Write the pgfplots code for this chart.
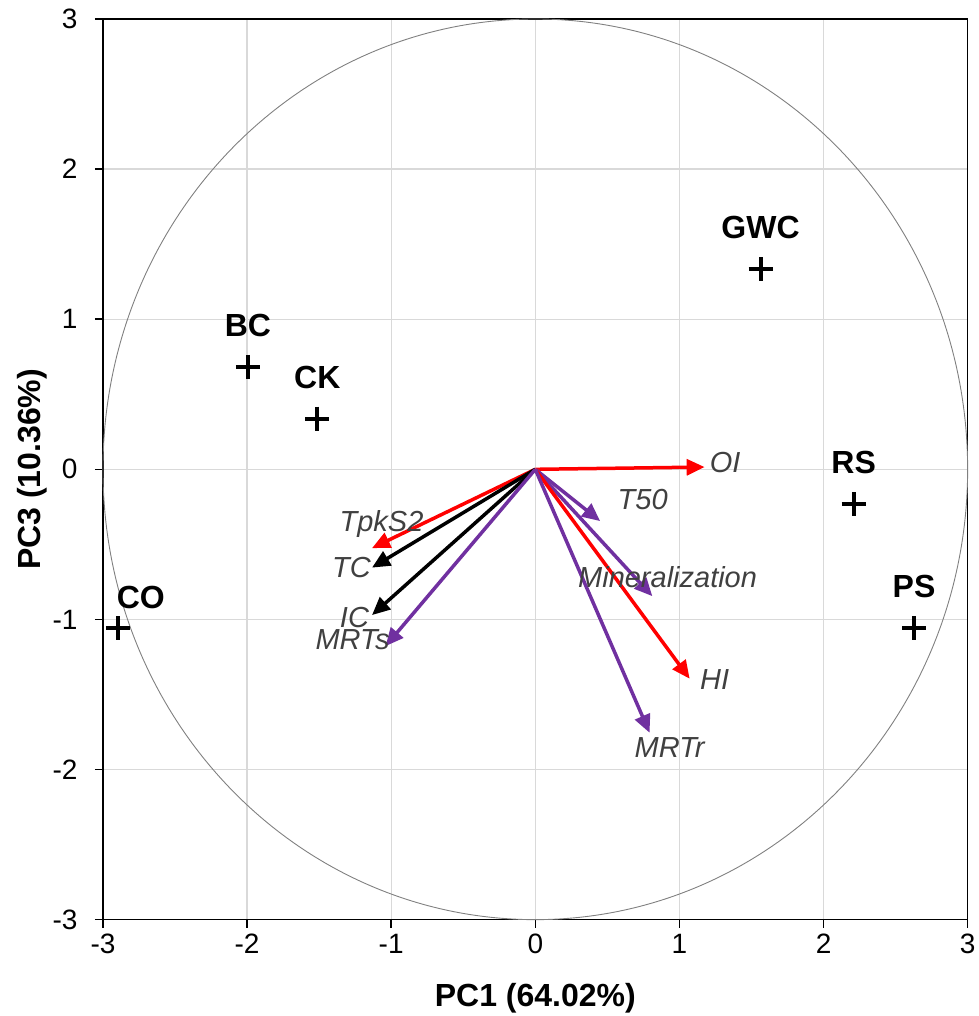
\documentclass[border=0pt]{standalone}
\usepackage{pgfplots}
\pgfplotsset{compat=1.18}
\usepackage{fontspec}
\setmainfont{Liberation Sans}
\usetikzlibrary{arrows.meta}
\definecolor{pur}{RGB}{112,48,160}
\definecolor{lab}{RGB}{64,64,64}
\definecolor{gridc}{RGB}{217,217,217}
\begin{document}
\begin{tikzpicture}
\begin{axis}[
  scale only axis, width=865pt, height=901pt,
  xmin=-3, xmax=3, ymin=-3, ymax=3,
  xtick={-3,-2,-1,0,1,2,3}, ytick={-3,-2,-1,0,1,2,3},
  xtick pos=bottom, ytick pos=left, tick align=outside,
  major tick length=8pt,
  grid=major, major grid style={gridc, line width=1.3pt},
  axis line style={black, line width=1.6pt},
  tick style={black, line width=1.6pt},
  /pgf/number format/assume math mode=true,
  ticklabel style={font=\fontsize{28}{32}\selectfont},
  xticklabel style={yshift=-3pt},
  yticklabel style={xshift=-14pt},
  xlabel={\bfseries PC1 (64.02\%)},
  ylabel={\bfseries PC3 (10.36\%)},
  label style={font=\fontsize{32}{36}\selectfont},
  xlabel style={yshift=-22pt},
  ylabel style={yshift=-1pt},
  clip=false,
]
\path ([yshift=19pt]rel axis cs:0.5,1);
\path ([xshift=-103pt]rel axis cs:0,0.5);
\draw[gray, line width=0.9pt] (axis cs:0,0) ellipse [x radius=3, y radius=3];
% arrows
\addplot[red, line width=3.5pt, -{Triangle[length=18pt,width=16pt]}] coordinates {(0,0) (-1.133,-0.525)};
\addplot[black, line width=3.5pt, -{Triangle[length=18pt,width=16pt]}] coordinates {(0,0) (-1.133,-0.655)};
\addplot[black, line width=3.5pt, -{Triangle[length=18pt,width=16pt]}] coordinates {(0,0) (-1.133,-0.971)};
\addplot[pur, line width=3.5pt, -{Triangle[length=18pt,width=16pt]}] coordinates {(0,0) (-1.039,-1.178)};
\addplot[red, line width=3.5pt, -{Triangle[length=18pt,width=16pt]}] coordinates {(0,0) (1.175,0.015)};
\addplot[pur, line width=3.5pt, -{Triangle[length=18pt,width=16pt]}] coordinates {(0,0) (0.450,-0.345)};
\addplot[pur, line width=3.5pt, -{Triangle[length=18pt,width=16pt]}] coordinates {(0,0) (0.812,-0.845)};
\addplot[red, line width=3.5pt, -{Triangle[length=18pt,width=16pt]}] coordinates {(0,0) (1.071,-1.395)};
\addplot[pur, line width=3.5pt, -{Triangle[length=18pt,width=16pt]}] coordinates {(0,0) (0.793,-1.755)};
% arrow labels
\begin{scope}[every node/.style={font=\fontsize{29}{33}\selectfont\itshape, text=lab, inner sep=0pt}]
\node[anchor=west] at (axis cs:1.21,0.047) {OI};
\node at (axis cs:0.745,-0.20) {T50};
\node at (axis cs:0.918,-0.72) {Mineralization};
\node at (axis cs:1.244,-1.40) {HI};
\node at (axis cs:0.932,-1.853) {MRTr};
\node at (axis cs:-1.067,-0.367) {TpkS2};
\node at (axis cs:-1.275,-0.653) {TC};
\node at (axis cs:-1.255,-0.987) {IC};
\node at (axis cs:-1.268,-1.133) {MRTs};
\end{scope}
% observations
\addplot[only marks, mark=+, mark size=12pt, mark options={line width=4pt, black}] coordinates {
(1.563,1.333) (2.209,-0.233) (2.628,-1.060) (-1.994,0.682) (-1.513,0.338) (-2.897,-1.060)};
\begin{scope}[every node/.style={font=\fontsize{32}{36}\selectfont\bfseries, inner sep=0pt}]
\node[yshift=42pt] at (axis cs:1.563,1.333) {GWC};
\node[yshift=42pt] at (axis cs:2.209,-0.233) {RS};
\node[yshift=42pt] at (axis cs:2.628,-1.060) {PS};
\node[yshift=41pt] at (axis cs:-1.994,0.682) {BC};
\node[yshift=41pt] at (axis cs:-1.513,0.338) {CK};
\node[yshift=31pt, xshift=23pt] at (axis cs:-2.897,-1.060) {CO};
\end{scope}
\end{axis}
\end{tikzpicture}
\end{document}
